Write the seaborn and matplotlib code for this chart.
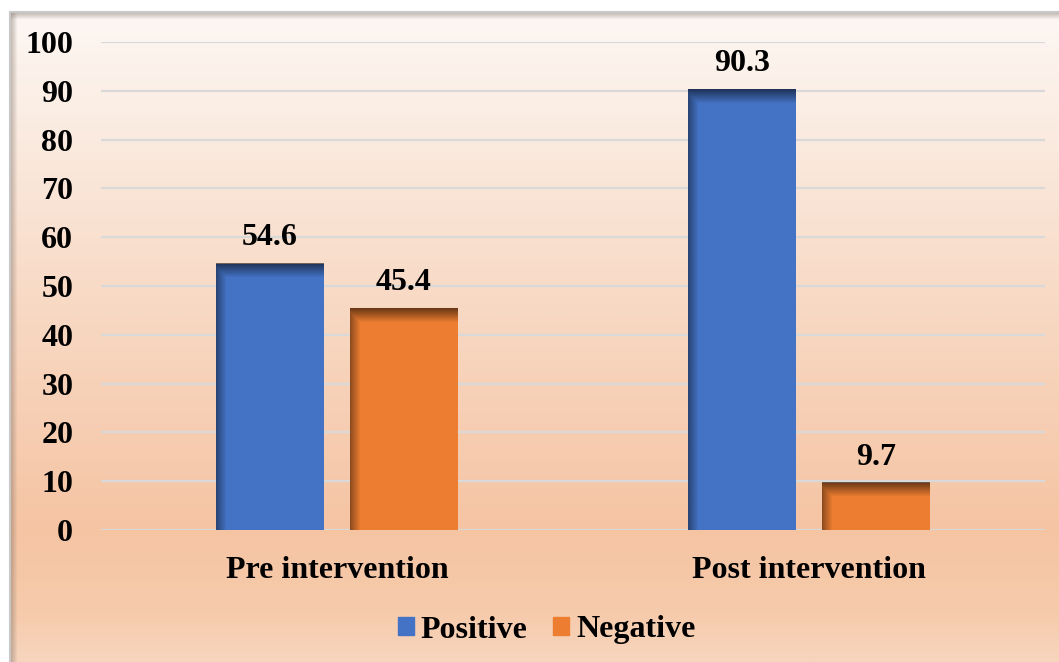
import numpy as np
import pandas as pd
import matplotlib
matplotlib.use("Agg")
import matplotlib.pyplot as plt
from matplotlib.colors import LinearSegmentedColormap
import seaborn as sns

# data
stages = ["Pre intervention", "Post intervention"]
positive = [54.6, 90.3]
negative = [45.4, 9.7]
groups = ["Positive", "Negative"]
colors = ["#4472C4", "#ED7D31"]
yticks = [0, 10, 20, 30, 40, 50, 60, 70, 80, 90, 100]

df = pd.DataFrame({
    "stage": stages * 2,
    "value": positive + negative,
    "group": [groups[0]] * 2 + [groups[1]] * 2,
})

sns.set_theme(style="white")
plt.rcParams["font.family"] = ["Liberation Serif", "DejaVu Serif"]
plt.rcParams["font.weight"] = "bold"
plt.rcParams["text.color"] = "black"
plt.rcParams["xtick.color"] = "black"
plt.rcParams["ytick.color"] = "black"
FS = 23

W, H = 1059, 662
fig = plt.figure(figsize=(W / 100, H / 100), dpi=100)
fig.patch.set_facecolor("white")

# background panel with peach gradient and grey frame
bg = fig.add_axes([0, 0, 1, 1], zorder=-5)
bg.set_xlim(0, W)
bg.set_ylim(H, 0)
bg.axis("off")
grad = LinearSegmentedColormap.from_list("peach", [
    (0.00, "#fdf7f3"), (0.14, "#fbeee5"), (0.45, "#f8d9c4"),
    (0.80, "#f5c4a3"), (0.93, "#f6cbac"), (1.00, "#f7d5bd")])
g = np.linspace(0, 1, 300).reshape(-1, 1)
bg.imshow(g, cmap=grad, aspect="auto", extent=(10, W, H, 12), zorder=0)
# frame shadow on top and left
for i, a in enumerate(np.linspace(0.35, 0.0, 8)):
    bg.plot([10 + i, 10 + i], [12, H], color="#7a6a60", alpha=a, lw=1, zorder=1)
    bg.plot([10, W], [12 + i, 12 + i], color="#7a6a60", alpha=a, lw=1, zorder=1)
bg.plot([10, 10], [12, H], color="#c8c8c8", lw=1.5, zorder=2)
bg.plot([10, W], [12, 12], color="#c8c8c8", lw=1.5, zorder=2)

ax = fig.add_axes([101 / W, 1 - 530 / H, 944 / W, 488 / H])
ax.patch.set_alpha(0)
sns.barplot(data=df, x="stage", y="value", hue="group", hue_order=groups,
            palette=colors, saturation=1, width=0.568, gap=0.2,
            linewidth=0, ax=ax, legend=False, zorder=3)
ax.set_xlim(-0.5, 1.5)
ax.set_ylim(0, 100)
ax.set_yticks(yticks)
ax.set_yticklabels([str(t) for t in yticks], fontsize=FS, fontweight="bold")
ax.set_xticks(range(len(stages)))
ax.set_xticklabels(stages, fontsize=FS, fontweight="bold")
ax.tick_params(axis="y", length=0, pad=20)
ax.tick_params(axis="x", length=0, pad=19)
ax.set_xlabel("")
ax.set_ylabel("")
for s in ax.spines.values():
    s.set_visible(False)
ax.yaxis.grid(True, color="#d9d9d9", lw=1.6, zorder=0)
ax.set_axisbelow(True)

# bevel shading on bars
for c in ax.containers:
    for p in c.patches:
        x0, y0 = p.get_x(), p.get_y()
        w, h = p.get_width(), p.get_height()
        (px0, py0), (px1, py1) = ax.transData.transform([(x0, y0), (x0 + w, y0 + h)])
        pw, ph = int(px1 - px0), int(py1 - py0)
        yy, xx = np.mgrid[0:ph, 0:pw]
        top = 0.55 * np.clip(1 - yy / 14.0, 0, 1)
        left = 0.4 * np.clip(1 - xx / 10.0, 0, 1)
        alpha = np.maximum(top, left)
        img = np.zeros((ph, pw, 4))
        img[..., 3] = alpha
        ax.imshow(img, extent=(x0, x0 + w, y0, y0 + h), aspect="auto",
                  origin="upper", zorder=4, interpolation="bilinear")
    ax.bar_label(c, fmt="%.1f", padding=8, fontsize=FS, fontweight="bold")
ax.set_xlim(-0.5, 1.5)
ax.set_ylim(0, 100)

handles = [plt.Rectangle((0, 0), 1, 1, facecolor=col, edgecolor=col) for col in colors]
fig.legend(handles, groups, loc="center", bbox_to_anchor=(546.5 / W, 1 - 630 / H),
           ncol=2, frameon=False, handlelength=0.5, handleheight=0.5,
           handletextpad=0.22, columnspacing=0.8,
           prop={"size": FS, "weight": "bold"})

fig.savefig("out.png", dpi=100)
